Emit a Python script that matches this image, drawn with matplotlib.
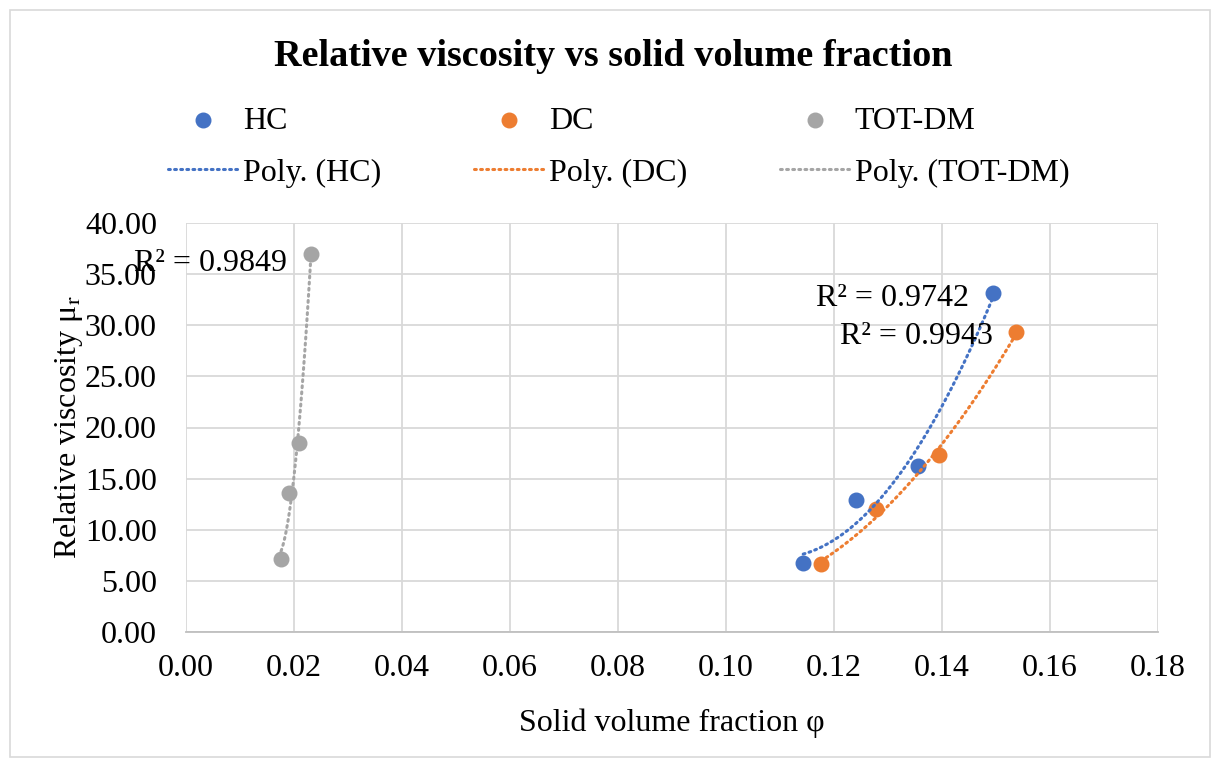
import matplotlib
matplotlib.use("Agg")
import matplotlib.pyplot as plt
import numpy as np
from matplotlib.patches import Rectangle

# Données
hc_x = [0.1143, 0.1241, 0.1356, 0.1494]
hc_y = [6.74, 12.9, 16.2, 33.2]
dc_x = [0.1176, 0.1278, 0.1394, 0.1537]
dc_y = [6.64, 12.0, 17.3, 29.3]
tot_x = [0.0176, 0.0191, 0.0209, 0.0231]
tot_y = [7.13, 13.57, 18.46, 37.0]
r2_labels = ["R² = 0.9742", "R² = 0.9943", "R² = 0.9849"]

series = [
    ("HC", hc_x, hc_y, "#4472C4", r2_labels[0], (0.1309, 32.6)),
    ("DC", dc_x, dc_y, "#ED7D31", r2_labels[1], (0.1352, 28.9)),
    ("TOT-DM", tot_x, tot_y, "#A5A5A5", r2_labels[2], (0.0046, 36.0)),
]

plt.rcParams['font.family'] = ['Liberation Serif', 'DejaVu Serif']
plt.rcParams['mathtext.fontset'] = 'stix'

fs = 23  # taille de police commune

fig = plt.figure(figsize=(12.12, 7.6), dpi=100)
ax = fig.add_axes([0.1535, 0.1684, 0.8019, 0.5382])

handles = []
for name, x, y, color, r2, pos in series:
    pts = ax.scatter(x, y, s=110, color=color, zorder=3, label=name)
    # Courbe de tendance polynomiale d'ordre 2 (comme Excel)
    coef = np.polyfit(x, y, 2)
    xs = np.linspace(min(x), max(x), 100)
    line, = ax.plot(xs, np.polyval(coef, xs), color=color, lw=2.2,
                    linestyle=(0, (0.6, 1.4)), dash_capstyle='round',
                    zorder=4, label="Poly. (%s)" % name)
    ax.text(pos[0], pos[1], r2, fontsize=fs, ha='center', va='center', zorder=5)
    handles += [pts, line]

ax.set_xlim(0, 0.18)
ax.set_ylim(0, 40)
ax.set_xticks(np.arange(0, 0.181, 0.02))
ax.set_yticks(np.arange(0, 40.1, 5))
ax.xaxis.set_major_formatter(matplotlib.ticker.FormatStrFormatter('%.2f'))
ax.yaxis.set_major_formatter(matplotlib.ticker.FormatStrFormatter('%.2f'))
ax.tick_params(axis='both', length=0, labelsize=fs)
ax.tick_params(axis='y', pad=21)
ax.tick_params(axis='x', pad=16)
ax.grid(True, color='#D9D9D9', lw=1.3)
ax.set_axisbelow(True)
for s in ['top', 'right', 'left']:
    ax.spines[s].set_visible(False)
ax.spines['bottom'].set_color('#BFBFBF')
ax.spines['bottom'].set_linewidth(1.3)

ax.set_xlabel("Solid volume fraction φ", fontsize=fs, labelpad=18)
ax.set_ylabel(r"Relative viscosity μ$_\mathrm{r}$", fontsize=fs, labelpad=0)

fig.text(613 / 1212, 1 - 56 / 760, "Relative viscosity vs solid volume fraction",
         fontsize=27.5, fontweight='bold', ha='center', va='center')

leg = fig.legend(handles=handles, ncol=3, loc='center left',
                 bbox_to_anchor=(155 / 1212, 1 - 147 / 760), frameon=False,
                 fontsize=fs, handlelength=2.2, handletextpad=0.15,
                 columnspacing=2.9, labelspacing=0.7, borderaxespad=0)

# Cadre du graphique
fig.patches.append(Rectangle((0.008, 0.004), 0.99, 0.983, transform=fig.transFigure,
                             fill=False, edgecolor='#D9D9D9', lw=1.2))

fig.savefig("out.png", dpi=100)
